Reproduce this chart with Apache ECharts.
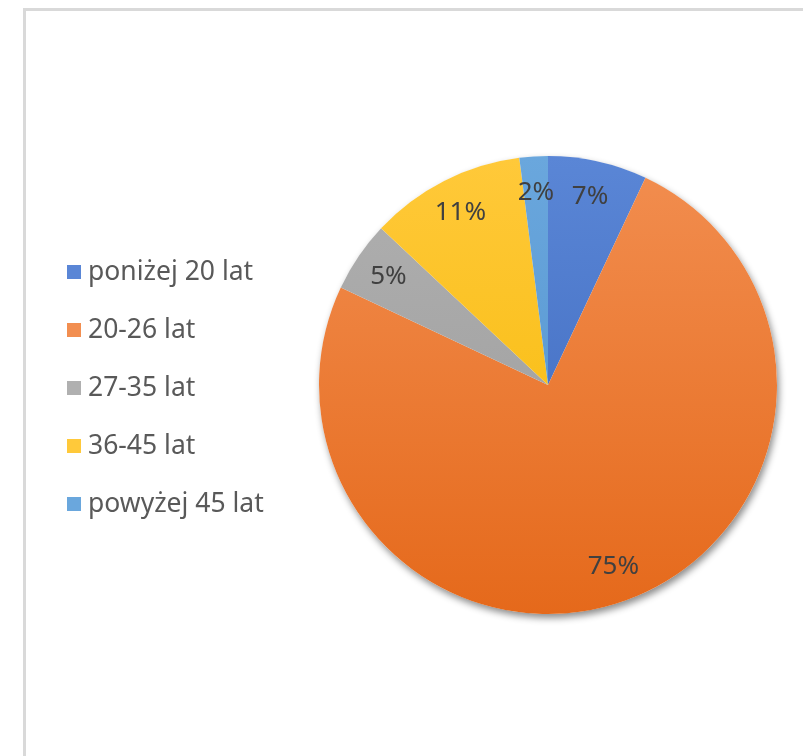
<!DOCTYPE html>
<html>
<head>
    <meta charset="utf-8">
    <title>Wiek</title>
    <script src="https://cdn.jsdelivr.net/npm/echarts@6/dist/echarts.min.js"></script>
    <style>
        html, body { margin: 0; padding: 0; background: #fff; }
    </style>
</head>
<body>
    <div id="main" style="width: 803px;height:756px;"></div>

    <script type="text/javascript">

        var categories = ['poniżej 20 lat', '20-26 lat', '27-35 lat', '36-45 lat', 'powyżej 45 lat'];
        var values = [7, 75, 5, 11, 2];
        // top / bottom shade of each slice
        var topColors = ['#5a86d6', '#f28e50', '#b0b0b0', '#ffc93a', '#6aa7dd'];
        var bottomColors = ['#3b66bb', '#e5691b', '#9a9a9a', '#f5b800', '#4f90cc'];

        var CX = 548, CY = 385, R = 229;

        function shade(i) {
            return new echarts.graphic.LinearGradient(0, CY - R, 0, CY + R, [
                { offset: 0, color: topColors[i] },
                { offset: 1, color: bottomColors[i] }
            ], true);
        }

        var pieData = categories.map(function (name, i) {
            return { name: name, value: values[i], itemStyle: { color: shade(i) } };
        });

        var chart = echarts.init(document.getElementById('main'));

        var option = {
            animation: false,
            backgroundColor: '#fff',
            graphic: [{
                type: 'rect',
                shape: { x: 24.5, y: 9.5, width: 900, height: 900 },
                style: { fill: 'none', stroke: '#d9d9d9', lineWidth: 3 },
                silent: true
            }],
            legend: {
                orient: 'vertical',
                left: 62,
                top: 252,
                itemWidth: 14,
                itemHeight: 14,
                itemGap: 28,
                icon: 'rect',
                data: categories,
                textStyle: {
                    fontFamily: 'Noto Sans',
                    fontSize: 26.5,
                    color: '#595959',
                    lineHeight: 30,
                    padding: [0, 0, 0, 2]
                }
            },
            series: [
                {
                    // shadow under the pie
                    type: 'pie',
                    silent: true,
                    center: [CX, CY],
                    radius: [0, R],
                    startAngle: 90,
                    label: { show: false },
                    labelLine: { show: false },
                    itemStyle: {
                        color: '#fff',
                        shadowBlur: 7,
                        shadowOffsetX: 2,
                        shadowOffsetY: 4,
                        shadowColor: 'rgba(0,0,0,0.45)'
                    },
                    data: [{ name: '', value: 1 }],
                    z: 1
                },
                {
                    type: 'pie',
                    center: [CX, CY],
                    radius: [0, R],
                    startAngle: 90,
                    clockwise: true,
                    label: { show: false },
                    labelLine: { show: false },
                    data: pieData,
                    z: 2
                },
                {
                    // ring used only to place the labels near the rim
                    type: 'pie',
                    silent: true,
                    center: [CX, CY],
                    radius: [155, 225],
                    startAngle: 90,
                    clockwise: true,
                    itemStyle: { color: 'rgba(0,0,0,0)' },
                    label: {
                        show: true,
                        position: 'inside',
                        formatter: '{c}%',
                        fontFamily: 'Noto Sans',
                        fontSize: 26,
                        color: '#404040'
                    },
                    labelLine: { show: false },
                    data: categories.map(function (name, i) {
                        return { name: name, value: values[i] };
                    }),
                    z: 3
                }
            ]
        };

        chart.setOption(option);

    </script>
</body>
</html>
